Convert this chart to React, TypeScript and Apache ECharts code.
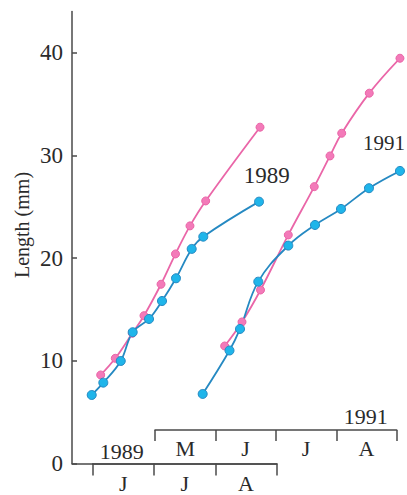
import React, { useEffect, useRef } from "react";
import * as echarts from "echarts";

// Month brackets
const months1989 = ["J", "J", "A"];
const months1991 = ["M", "J", "J", "A"];
const yTickMax = 40;
const yTickStep = 10;

// x = months since 1 June 1989 / 1 May 1991 ; y = length (mm)
const pink1989X = [0.13, 0.368, 0.646, 0.836, 1.114, 1.35, 1.586, 1.842, 2.728];
const pink1989Y = [8.62, 10.24, 12.68, 14.39, 17.45, 20.4, 23.13, 25.56, 32.74];
const blue1989X = [-0.016, 0.173, 0.457, 0.652, 0.918, 1.13, 1.358, 1.614, 1.803, 2.712];
const blue1989Y = [6.67, 7.87, 9.98, 12.78, 14.07, 15.82, 18.03, 20.89, 22.08, 25.49];
const pink1991X = [1.153, 1.44, 1.746, 2.206, 2.636, 2.896, 3.09, 3.546, 4.054];
const pink1991Y = [11.44, 13.78, 16.89, 22.25, 26.95, 29.94, 32.15, 36.05, 39.45];
const blue1991X = [0.789, 1.233, 1.407, 1.709, 2.206, 2.648, 3.078, 3.541, 4.054];
const blue1991Y = [6.77, 11.0, 13.1, 17.7, 21.21, 23.22, 24.78, 26.8, 28.48];

const zip = (xs: number[], ys: number[]) => xs.map((x, i) => [x, ys[i]]);

const FONT = "Liberation Serif";
const TEXT = "#2a2a2a";
const AXIS = "#4a4a4a";
const PINK_LINE = "#ea66a8";
const PINK_DOT = "#f37ab9";
const BLUE_LINE = "#2589c2";
const BLUE_DOT = "#1fb5ea";

export default function App() {
  const ref = useRef<HTMLDivElement>(null);
  useEffect(() => {
    if (!ref.current) return;
    const chart = echarts.init(ref.current, undefined, { renderer: "svg" });
    const hiddenY = (gi: number, max?: number) => ({
      type: "value",
      gridIndex: gi,
      min: 0,
      max: max ?? 44,
      show: false,
    });
    const catAxis = (gi: number, data: string[], tickLen: number, margin: number) => ({
      type: "category",
      gridIndex: gi,
      data,
      boundaryGap: true,
      axisLine: { show: true, lineStyle: { color: AXIS, width: 1.5 } },
      axisTick: { show: true, alignWithLabel: false, length: tickLen, lineStyle: { color: AXIS, width: 1.5 } },
      axisLabel: { show: true, margin, fontFamily: FONT, fontSize: 22, color: TEXT },
      splitLine: { show: false },
    });
    const lineSeries = (name: string, xi: number, yi: number, data: number[][], lc: string, dc: string, size: number) => ({
      name,
      type: "line",
      xAxisIndex: xi,
      yAxisIndex: yi,
      data,
      smooth: 0.4,
      clip: false,
      symbol: "circle",
      symbolSize: size,
      lineStyle: { color: lc, width: 1.8 },
      itemStyle: { color: dc, borderColor: lc, borderWidth: 1 },
    });
    chart.setOption({
      animation: false,
      backgroundColor: "#ffffff",
      grid: [
        { left: 72, right: 0, top: 11.5, bottom: 31.5 },
        { left: 72, right: 0, top: 52.7, bottom: 31.5 },
        { left: 92.7, right: 130.3, top: 11.5, bottom: 31.5 },
        { left: 72, right: 130.3, top: 11.5, bottom: 31.5 },
        { left: 155, right: 10.3, top: 11.5, bottom: 31.5 },
        { left: 155, right: 10.3, top: 11.5, bottom: 65 },
      ],
      xAxis: [
        { type: "value", gridIndex: 0, show: false },
        { type: "value", gridIndex: 1, show: false },
        catAxis(2, months1989, 12, 9),
        { type: "value", gridIndex: 2, min: 0, max: 3, show: false },
        {
          type: "value",
          gridIndex: 3,
          axisLine: { show: true, lineStyle: { color: AXIS, width: 1.5 } },
          axisTick: { show: false },
          axisLabel: { show: false },
          splitLine: { show: false },
        },
        { type: "value", gridIndex: 4, min: 0, max: 4, show: false },
        catAxis(5, months1991, 11, 7),
      ],
      yAxis: [
        {
          type: "value",
          gridIndex: 0,
          min: 0,
          max: 44,
          axisLine: { show: true, lineStyle: { color: AXIS, width: 1.5 } },
          axisTick: { show: false },
          axisLabel: { show: false },
          splitLine: { show: false },
        },
        {
          type: "value",
          gridIndex: 1,
          min: 0,
          max: yTickMax,
          interval: yTickStep,
          axisLine: { show: false },
          axisTick: { show: true, inside: true, length: 5, lineStyle: { color: AXIS, width: 1.5 } },
          axisLabel: { margin: 9, fontFamily: FONT, fontSize: 23, color: TEXT },
          splitLine: { show: false },
        },
        hiddenY(2),
        hiddenY(3),
        hiddenY(4),
        hiddenY(5),
      ],
      graphic: [
        {
          type: "text",
          x: 22,
          y: 225,
          rotation: Math.PI / 2,
          style: { text: "Length (mm)", fontFamily: FONT, fontSize: 20, fill: TEXT, align: "center", verticalAlign: "middle" },
        },
        {
          type: "text",
          x: 266.7,
          y: 175.7,
          style: { text: "1989", fontFamily: FONT, fontSize: 23, fill: TEXT, align: "center", verticalAlign: "middle" },
        },
        {
          type: "text",
          x: 363,
          y: 143,
          style: { text: "1991", fontFamily: FONT, fontSize: 21, fill: TEXT, align: "left", verticalAlign: "middle" },
        },
        {
          type: "text",
          x: 121.7,
          y: 451,
          style: { text: "1989", fontFamily: FONT, fontSize: 22, fill: TEXT, align: "center", verticalAlign: "middle" },
        },
        {
          type: "text",
          x: 365.8,
          y: 416.7,
          style: { text: "1991", fontFamily: FONT, fontSize: 22, fill: TEXT, align: "center", verticalAlign: "middle" },
        },
      ],
      series: [
        lineSeries("pink1989", 3, 2, zip(pink1989X, pink1989Y), PINK_LINE, PINK_DOT, 8),
        lineSeries("pink1991", 5, 4, zip(pink1991X, pink1991Y), PINK_LINE, PINK_DOT, 8),
        lineSeries("blue1989", 3, 2, zip(blue1989X, blue1989Y), BLUE_LINE, BLUE_DOT, 9),
        lineSeries("blue1991", 5, 4, zip(blue1991X, blue1991Y), BLUE_LINE, BLUE_DOT, 9),
      ],
    });
    return () => chart.dispose();
  }, []);
  return <div ref={ref} style={{ position: "fixed", left: 0, top: 0, width: 407, height: 495 }} />;
}
